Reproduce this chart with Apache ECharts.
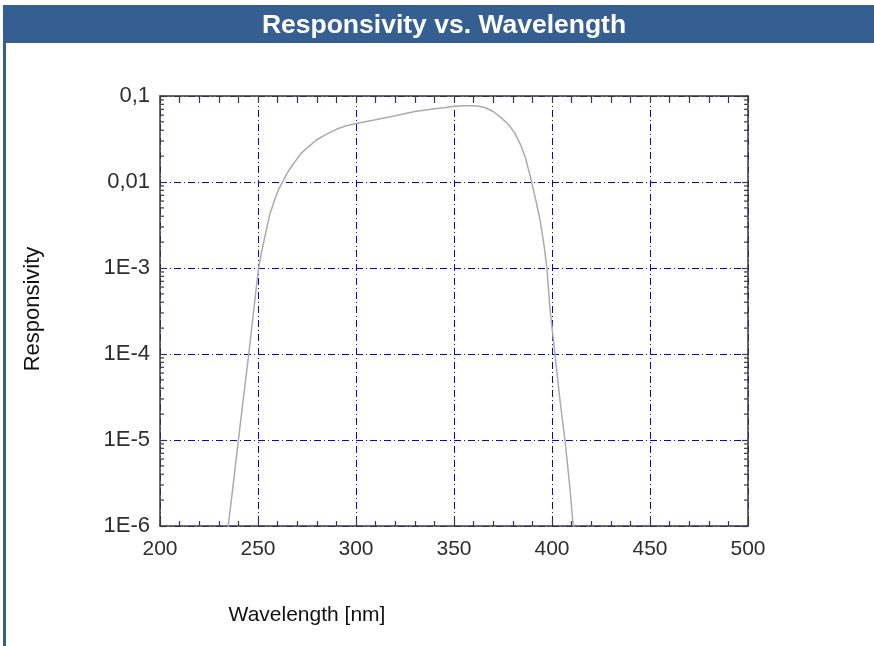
<!DOCTYPE html>
<html>
<head>
<meta charset="utf-8">
<title>Responsivity vs. Wavelength</title>
<script src="https://cdn.jsdelivr.net/npm/echarts@6/dist/echarts.min.js"></script>
<style>
  html, body { margin: 0; padding: 0; background: #fff; }
  #chart { width: 874px; height: 646px; }
</style>
</head>
<body>
<div id="chart"></div>
<script>
// wavelength in nm
var wavelength = [234, 234.8, 237, 240, 242.5, 245.3, 248, 250.3, 252, 254, 256, 258.5, 260.5, 262.6,
    265, 268, 272, 276, 280, 285, 290, 295, 300, 310, 320, 330, 340, 345, 350, 355, 360, 363, 366,
    370, 374, 378, 381, 384, 386.5, 388, 389.7, 392, 394, 396, 397.4, 399, 401.5, 404, 406.6, 409, 410.8, 412];
// responsivity (log scale)
var responsivity = [7e-7, 1e-6, 2.6e-6, 1e-5, 3e-5, 1e-4, 3.5e-4, 1e-3, 1.6e-3, 2.6e-3, 4.2e-3, 6.2e-3, 8.2e-3, 0.0101,
    0.0128, 0.0162, 0.0215, 0.026, 0.031, 0.036, 0.041, 0.045, 0.048, 0.053, 0.059, 0.066, 0.071, 0.073, 0.076, 0.077, 0.077, 0.076, 0.073,
    0.066, 0.056, 0.046, 0.037, 0.027, 0.019, 0.014, 0.0098, 0.0058, 0.0035, 0.0018, 1e-3, 3.3e-4, 1e-4, 3e-5, 1e-5, 3e-6, 1e-6, 6e-7];

var xTicks = [200, 250, 300, 350, 400, 450, 500];
var yTickLabels = ['1E-6', '1E-5', '1E-4', '1E-3', '0,01', '0,1'];

var curveData = [];
for (var i = 0; i < wavelength.length; i++) {
    curveData.push([wavelength[i], responsivity[i]]);
}

// log minor ticks (2..9 in each decade)
var minorTicks = [];
for (var d = -6; d < -1; d++) {
    for (var k = 2; k <= 9; k++) {
        minorTicks.push([300, k * Math.pow(10, d)]);
    }
}

var axisColor = '#3a3a3a';
var labelColor = '#2e2e2e';
var gridStyle = { color: '#0000ff', width: 1, type: [7, 3, 1, 3] };

var chart = echarts.init(document.getElementById('chart'));

var option = {
    animation: false,
    backgroundColor: '#fff',
    textStyle: { fontFamily: 'Liberation Sans, Arial, sans-serif' },
    grid: { left: 160, right: 126, top: 96, bottom: 120 },
    graphic: [
        { type: 'rect', left: 3, top: 5, shape: { width: 871, height: 38 }, style: { fill: '#365f91' } },
        { type: 'rect', left: 3, top: 43, shape: { width: 3, height: 603 }, style: { fill: '#365f91' } },
        {
            type: 'text', x: 444, y: 26,
            style: {
                text: 'Responsivity vs. Wavelength', fill: '#fff', align: 'center', verticalAlign: 'middle',
                font: 'bold 26.5px "Liberation Sans", Arial, sans-serif'
            }
        },
        {
            type: 'text', x: 33, y: 309, rotation: Math.PI / 2,
            style: {
                text: 'Responsivity', fill: '#111', align: 'center', verticalAlign: 'middle',
                font: '22px "Liberation Sans", Arial, sans-serif'
            }
        },
        {
            type: 'text', x: 307, y: 615,
            style: {
                text: 'Wavelength [nm]', fill: '#111', align: 'center', verticalAlign: 'middle',
                font: '21px "Liberation Sans", Arial, sans-serif'
            }
        }
    ],
    xAxis: [
        {
            type: 'value', position: 'bottom', min: 200, max: 500, interval: 50,
            axisLine: { show: true, lineStyle: { color: axisColor, width: 1.5 } },
            axisTick: { show: true, inside: true, length: 7, lineStyle: { color: axisColor, width: 1.2 } },
            minorTick: { show: true, splitNumber: 5, length: 5, lineStyle: { color: axisColor, width: 1.2 } },
            axisLabel: { color: labelColor, fontSize: 21, margin: 13 },
            splitLine: { show: true, lineStyle: gridStyle }
        },
        {
            type: 'value', position: 'top', min: 200, max: 500, interval: 50,
            axisLine: { show: true, lineStyle: { color: axisColor, width: 1.5 } },
            axisTick: { show: true, inside: true, length: 7, lineStyle: { color: axisColor, width: 1.2 } },
            minorTick: { show: true, splitNumber: 5, length: 7, lineStyle: { color: axisColor, width: 1.2 } },
            axisLabel: { show: false },
            splitLine: { show: false }
        }
    ],
    yAxis: [
        {
            type: 'log', logBase: 10, position: 'left', min: 1e-6, max: 0.1,
            axisLine: { show: true, lineStyle: { color: axisColor, width: 1.5 } },
            axisTick: { show: true, inside: true, length: 6, lineStyle: { color: axisColor, width: 1.2 } },
            axisLabel: {
                color: labelColor, fontSize: 22, margin: 10,
                formatter: function (v) {
                    var idx = Math.round(Math.log10(v)) + 6;
                    return yTickLabels[idx] || '';
                }
            },
            splitLine: { show: true, lineStyle: gridStyle }
        },
        {
            type: 'log', logBase: 10, position: 'right', min: 1e-6, max: 0.1,
            axisLine: { show: true, lineStyle: { color: axisColor, width: 1.5 } },
            axisTick: { show: true, inside: true, length: 6, lineStyle: { color: axisColor, width: 1.2 } },
            axisLabel: { show: false },
            splitLine: { show: false }
        }
    ],
    series: [
        {
            type: 'custom',
            xAxisIndex: 0, yAxisIndex: 0,
            silent: true,
            z: 3,
            data: minorTicks,
            renderItem: function (params, api) {
                var cs = params.coordSys;
                var y = api.coord([api.value(0), api.value(1)])[1];
                var st = { stroke: axisColor, lineWidth: 1.2 };
                return {
                    type: 'group',
                    children: [
                        { type: 'line', shape: { x1: cs.x, y1: y, x2: cs.x + 4, y2: y }, style: st },
                        { type: 'line', shape: { x1: cs.x + cs.width - 4, y1: y, x2: cs.x + cs.width, y2: y }, style: st }
                    ]
                };
            }
        },
        {
            name: 'Responsivity',
            type: 'line',
            xAxisIndex: 0, yAxisIndex: 0,
            data: curveData,
            showSymbol: false,
            clip: true,
            z: 4,
            lineStyle: { color: '#ababab', width: 1.5 }
        }
    ]
};

chart.setOption(option);
window.addEventListener('resize', function () {
    chart.resize();
});
</script>
</body>
</html>
